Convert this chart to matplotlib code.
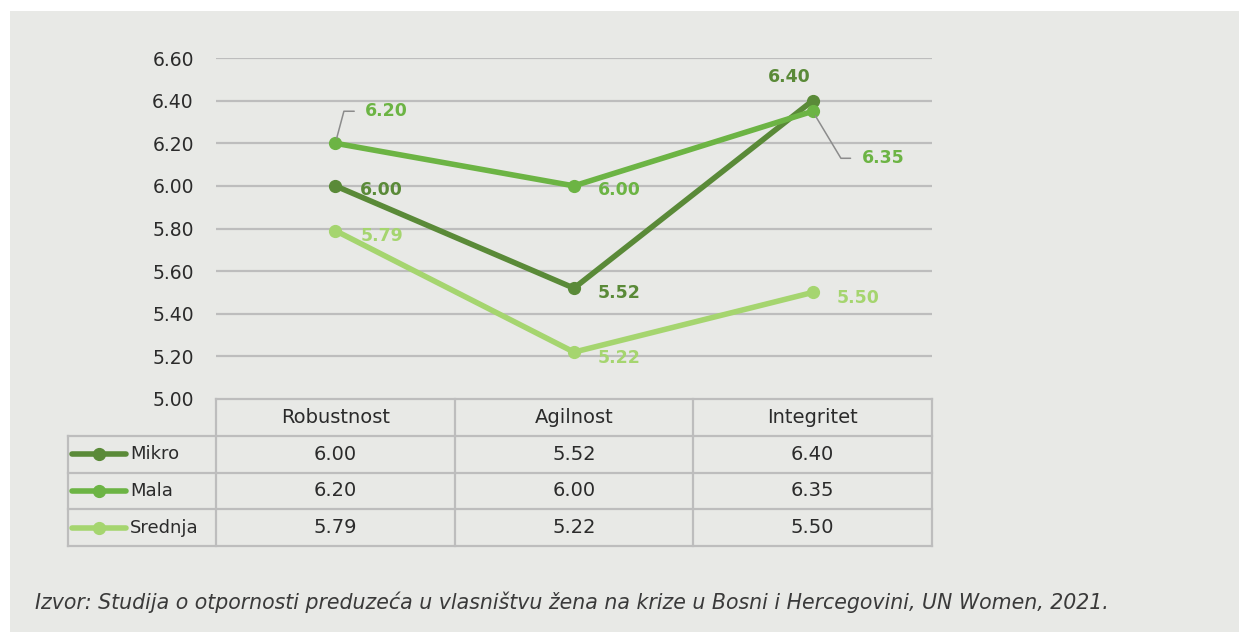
import matplotlib.pyplot as plt
from matplotlib.patches import Rectangle

plt.rcParams['font.family'] = 'DejaVu Sans'

# data
categories = ['Robustnost', 'Agilnost', 'Integritet']
series_names = ['Mikro', 'Mala', 'Srednja']
mikro = [6.00, 5.52, 6.40]
mala = [6.20, 6.00, 6.35]
srednja = [5.79, 5.22, 5.50]
y_ticks = [5.00, 5.20, 5.40, 5.60, 5.80, 6.00, 6.20, 6.40, 6.60]
source = ('Izvor: Studija o otpornosti preduzeća u vlasništvu žena na krize '
          'u Bosni i Hercegovini, UN Women, 2021.')

colors = ['#5a8a38', '#6cb444', '#a5d56f']
grid_c = '#bdbdbd'
text_c = '#2b2b2b'
bg = '#e8e9e6'

W, H = 1239, 632
fig = plt.figure(figsize=(W / 100, H / 100), dpi=100, facecolor='white')
fig.patches.append(Rectangle((10 / W, 0), 1, 1 - 11 / H, transform=fig.transFigure,
                             facecolor=bg, edgecolor='none', zorder=-10))


def fx(px):
    return px / W


def fy(py):
    return 1 - py / H


# main line chart
ax = fig.add_axes([fx(216), fy(399), fx(932) - fx(216), fy(58) - fy(399)])
ax.set_facecolor('none')
ax.set_xlim(-0.5, 2.5)
ax.set_ylim(5.0, 6.6)
ax.set_yticks(y_ticks)
ax.set_yticklabels([f'{v:.2f}' for v in y_ticks], fontsize=13.5, color=text_c)
ax.tick_params(axis='y', length=0, pad=16)
ax.set_xticks([])
for s in ax.spines.values():
    s.set_visible(False)
for v in y_ticks[1:]:
    ax.axhline(v, color=grid_c, lw=1.6, zorder=1)

x = range(len(categories))
for vals, c in zip([srednja, mikro, mala], [colors[2], colors[0], colors[1]]):
    ax.plot(x, vals, color=c, lw=4.0, marker='o', ms=8.5, zorder=3)

lab = dict(fontsize=12.5, fontweight='bold', textcoords='offset pixels', va='center')
# Mikro
ax.annotate(f'{mikro[0]:.2f}', (0, mikro[0]), xytext=(25, -4), color=colors[0], ha='left', **lab)
ax.annotate(f'{mikro[1]:.2f}', (1, mikro[1]), xytext=(24, -5), color=colors[0], ha='left', **lab)
ax.annotate(f'{mikro[2]:.2f}', (2, mikro[2]), xytext=(-23, 24), color=colors[0], ha='center', **lab)
# Mala
leader = dict(arrowstyle='-', color='#8c8c8c', lw=1.1, shrinkA=6, shrinkB=4,
              relpos=(0, 0.5))
ax.annotate(f'{mala[0]:.2f}', (0, mala[0]), xytext=(30, 32), color=colors[1], ha='left',
            arrowprops=dict(connectionstyle='angle,angleA=0,angleB=75,rad=0', **leader), **lab)
ax.annotate(f'{mala[1]:.2f}', (1, mala[1]), xytext=(24, -4), color=colors[1], ha='left', **lab)
ax.annotate(f'{mala[2]:.2f}', (2, mala[2]), xytext=(49, -47), color=colors[1], ha='left',
            arrowprops=dict(connectionstyle='angle,angleA=0,angleB=-59,rad=0', **leader), **lab)
# Srednja
ax.annotate(f'{srednja[0]:.2f}', (0, srednja[0]), xytext=(25, -5), color=colors[2], ha='left', **lab)
ax.annotate(f'{srednja[1]:.2f}', (1, srednja[1]), xytext=(24, -6), color=colors[2], ha='left', **lab)
ax.annotate(f'{srednja[2]:.2f}', (2, srednja[2]), xytext=(24, -6), color=colors[2], ha='left', **lab)

# data table below
col_w = (932 - 216) / 3
left = -0.5 - (216 - 68) / col_w
tb = fig.add_axes([fx(68), fy(546), fx(932) - fx(68), fy(399) - fy(546)])
tb.set_facecolor('none')
tb.set_xlim(left, 2.5)
tb.set_ylim(4, 0)
tb.axis('off')
lk = dict(color=grid_c, lw=1.6, clip_on=False, solid_capstyle='projecting')
tb.plot([-0.5, 2.5], [0, 0], **lk)
for r in range(1, 5):
    tb.plot([left, 2.5], [r, r], **lk)
tb.plot([left, left], [1, 4], **lk)
for cx in [-0.5, 0.5, 1.5, 2.5]:
    tb.plot([cx, cx], [0, 4], **lk)

for i, cat in enumerate(categories):
    tb.text(i, 0.5, cat, ha='center', va='center', fontsize=14, color=text_c)

rows = [mikro, mala, srednja]
gx0 = -0.5 - (216 - 72) / col_w
gx1 = -0.5 - (216 - 126) / col_w
tx = -0.5 - (216 - 130) / col_w
for r, (name, vals, c) in enumerate(zip(series_names, rows, colors)):
    yc = r + 1.5
    tb.plot([gx0, gx1], [yc, yc], color=c, lw=4.0, solid_capstyle='round', clip_on=False)
    tb.plot([(gx0 + gx1) / 2], [yc], 'o', color=c, ms=8.5, clip_on=False)
    tb.text(tx, yc, name, ha='left', va='center', fontsize=13, color=text_c)
    for i, v in enumerate(vals):
        tb.text(i, yc, f'{v:.2f}', ha='center', va='center', fontsize=14, color=text_c)

fig.text(fx(35), fy(602), source, ha='left', va='center', fontsize=14.8,
         style='italic', color='#3a3a3a')

fig.savefig('out.png', dpi=100, facecolor='white')
